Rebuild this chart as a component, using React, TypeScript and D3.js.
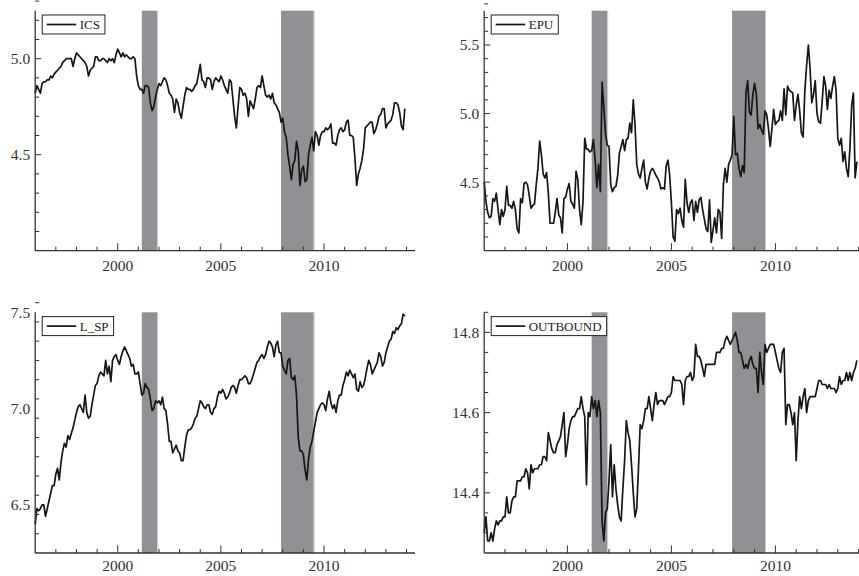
import React, { useEffect, useRef } from 'react';
import * as d3 from 'd3';

// Monthly observations, Jan 1996 .. Dec 2013
const START_YEAR = 1996;

const ICS = [
  4.82, 4.86, 4.84, 4.82, 4.87, 4.88, 4.88, 4.89, 4.89, 4.91, 4.90, 4.92,
  4.93, 4.94, 4.95, 4.96, 4.98, 4.99, 5.00, 5.00, 5.00, 5.00, 4.96, 5.00,
  5.03, 5.02, 5.01, 5.00, 4.99, 4.98, 4.96, 4.91, 4.94, 4.95, 4.96, 5.01,
  5.01, 4.99, 4.99, 5.00, 5.00, 4.99, 4.98, 5.00, 4.99, 5.00, 4.98, 5.02,
  5.05, 5.03, 5.01, 5.03, 5.01, 5.02, 5.01, 5.00, 5.00, 5.01, 5.00, 4.91,
  4.86, 4.84, 4.84, 4.82, 4.86, 4.86, 4.85, 4.77, 4.73, 4.75, 4.80, 4.84,
  4.87, 4.86, 4.88, 4.90, 4.89, 4.86, 4.82, 4.81, 4.79, 4.72, 4.79, 4.77,
  4.72, 4.69, 4.75, 4.81, 4.85, 4.84, 4.84, 4.83, 4.84, 4.86, 4.87, 4.92,
  4.97, 4.89, 4.88, 4.85, 4.90, 4.90, 4.89, 4.84, 4.88, 4.90, 4.89, 4.88,
  4.91, 4.89, 4.86, 4.84, 4.82, 4.89, 4.88, 4.79, 4.70, 4.64, 4.75, 4.85,
  4.84, 4.81, 4.82, 4.79, 4.70, 4.78, 4.76, 4.74, 4.79, 4.85, 4.86, 4.85,
  4.91, 4.86, 4.81, 4.80, 4.81, 4.79, 4.82, 4.77, 4.76, 4.74, 4.72, 4.67,
  4.69, 4.62, 4.59, 4.50, 4.44, 4.37, 4.45, 4.47, 4.57, 4.52, 4.34, 4.42,
  4.44, 4.36, 4.37, 4.50, 4.55, 4.59, 4.52, 4.62, 4.60, 4.55, 4.60, 4.62,
  4.62, 4.64, 4.63, 4.64, 4.66, 4.56, 4.56, 4.55, 4.60, 4.63, 4.64, 4.62,
  4.63, 4.67, 4.68, 4.60, 4.60, 4.59, 4.48, 4.34, 4.40, 4.43, 4.47, 4.53,
  4.64, 4.65, 4.66, 4.67, 4.67, 4.61, 4.63, 4.66, 4.70, 4.71, 4.74, 4.74,
  4.64, 4.66, 4.67, 4.68, 4.71, 4.77, 4.77, 4.76, 4.72, 4.65, 4.63, 4.74,
];

const EPU = [
  4.50, 4.36, 4.28, 4.24, 4.25, 4.38, 4.36, 4.42, 4.30, 4.19, 4.30, 4.25,
  4.30, 4.47, 4.33, 4.33, 4.31, 4.36, 4.30, 4.16, 4.13, 4.38, 4.35, 4.49,
  4.50, 4.48, 4.40, 4.31, 4.33, 4.34, 4.48, 4.60, 4.80, 4.70, 4.56, 4.53,
  4.57, 4.42, 4.20, 4.20, 4.20, 4.28, 4.38, 4.26, 4.24, 4.13, 4.38, 4.39,
  4.45, 4.49, 4.36, 4.34, 4.31, 4.58, 4.52, 4.30, 4.19, 4.36, 4.82, 4.74,
  4.74, 4.72, 4.73, 4.81, 4.66, 4.46, 4.63, 4.43, 5.23, 5.05, 4.85, 4.77,
  4.76, 4.48, 4.43, 4.46, 4.47, 4.55, 4.71, 4.76, 4.81, 4.73, 4.81, 4.82,
  4.93, 4.86, 5.10, 4.92, 4.63, 4.56, 4.53, 4.60, 4.66, 4.50, 4.45, 4.53,
  4.58, 4.60, 4.58, 4.55, 4.53, 4.50, 4.45, 4.46, 4.45, 4.62, 4.66, 4.55,
  4.35, 4.10, 4.07, 4.30, 4.27, 4.31, 4.22, 4.17, 4.52, 4.35, 4.28, 4.35,
  4.37, 4.22, 4.36, 4.28, 4.37, 4.39, 4.30, 4.23, 4.16, 4.14, 4.37, 4.06,
  4.15, 4.24, 4.13, 4.30, 4.28, 4.09, 4.48, 4.60, 4.50, 4.63, 4.66, 4.70,
  4.98, 4.70, 4.71, 4.60, 4.54, 4.62, 4.57, 5.15, 5.24, 5.01, 4.99, 5.14,
  5.22, 5.14, 4.89, 4.92, 4.88, 4.85, 5.02, 4.99, 4.89, 4.76, 4.89, 5.03,
  4.92, 4.94, 4.95, 5.02, 4.95, 5.18, 4.99, 5.20, 5.17, 5.16, 5.15, 4.95,
  5.06, 5.14, 5.02, 4.86, 4.83, 5.17, 5.35, 5.50, 5.33, 5.08, 5.14, 5.24,
  5.00, 4.94, 4.93, 5.09, 5.27, 5.20, 5.03, 5.17, 5.11, 5.20, 5.27, 5.17,
  4.82, 4.77, 4.82, 4.65, 4.72, 4.60, 4.54, 4.75, 5.06, 5.15, 4.53, 4.65,
];

const L_SP = [
  6.40, 6.48, 6.47, 6.48, 6.50, 6.50, 6.44, 6.48, 6.52, 6.56, 6.60, 6.60,
  6.66, 6.69, 6.63, 6.72, 6.78, 6.82, 6.80, 6.86, 6.84, 6.87, 6.90, 6.94,
  6.98, 7.01, 7.02, 7.00, 6.98, 7.07, 6.98, 6.95, 6.96, 7.02, 7.07, 7.12,
  7.13, 7.17, 7.19, 7.18, 7.17, 7.25, 7.18, 7.22, 7.14, 7.25, 7.27, 7.28,
  7.25, 7.23, 7.27, 7.30, 7.32, 7.30, 7.28, 7.26, 7.22, 7.23, 7.18, 7.18,
  7.19, 7.13, 7.07, 7.08, 7.13, 7.11, 7.10, 7.05, 6.99, 7.00, 7.04, 7.03,
  7.04, 7.02, 7.06, 7.00, 6.99, 6.92, 6.83, 6.83, 6.77, 6.79, 6.81, 6.78,
  6.77, 6.73, 6.73, 6.80, 6.86, 6.89, 6.89, 6.90, 6.92, 6.95, 6.96, 7.00,
  7.04, 7.03, 7.01, 7.00, 7.02, 7.02, 6.98, 6.97, 7.00, 7.01, 7.06, 7.09,
  7.08, 7.10, 7.08, 7.05, 7.06, 7.08, 7.11, 7.12, 7.11, 7.08, 7.12, 7.15,
  7.15, 7.16, 7.17, 7.16, 7.13, 7.13, 7.15, 7.18, 7.21, 7.24, 7.25, 7.27,
  7.28, 7.26, 7.28, 7.32, 7.35, 7.34, 7.32, 7.27, 7.33, 7.35, 7.29, 7.29,
  7.22, 7.20, 7.18, 7.25, 7.26, 7.16, 7.15, 7.17, 7.07, 6.85, 6.78, 6.78,
  6.76, 6.68, 6.63, 6.74, 6.80, 6.83, 6.88, 6.93, 6.98, 7.00, 7.02, 7.03,
  7.02, 6.99, 7.05, 7.09, 7.03, 7.00, 7.02, 6.98, 7.04, 7.07, 7.07, 7.12,
  7.15, 7.19, 7.17, 7.20, 7.18, 7.16, 7.18, 7.10, 7.09, 7.14, 7.11, 7.12,
  7.16, 7.21, 7.25, 7.23, 7.18, 7.20, 7.22, 7.24, 7.29, 7.27, 7.22, 7.24,
  7.29, 7.32, 7.35, 7.36, 7.40, 7.39, 7.42, 7.41, 7.43, 7.44, 7.49, 7.48,
];

const OUTBOUND = [
  14.30, 14.34, 14.28, 14.28, 14.30, 14.28, 14.31, 14.33, 14.32, 14.33, 14.33, 14.34,
  14.34, 14.39, 14.35, 14.35, 14.38, 14.39, 14.39, 14.43, 14.43, 14.43, 14.44, 14.44,
  14.46, 14.45, 14.41, 14.47, 14.45, 14.46, 14.46, 14.46, 14.47, 14.47, 14.49, 14.49,
  14.48, 14.55, 14.53, 14.51, 14.50, 14.50, 14.52, 14.53, 14.54, 14.57, 14.60, 14.49,
  14.52, 14.56, 14.58, 14.59, 14.59, 14.60, 14.61, 14.61, 14.64, 14.61, 14.59, 14.42,
  14.60, 14.59, 14.64, 14.61, 14.63, 14.59, 14.63, 14.60, 14.33, 14.28, 14.35, 14.36,
  14.43, 14.52, 14.39, 14.47, 14.41, 14.37, 14.34, 14.33, 14.41, 14.48, 14.58, 14.55,
  14.53, 14.47, 14.40, 14.34, 14.36, 14.46, 14.57, 14.56, 14.58, 14.61, 14.61, 14.64,
  14.61, 14.58, 14.62, 14.65, 14.62, 14.63, 14.63, 14.63, 14.62, 14.63, 14.64, 14.64,
  14.65, 14.69, 14.68, 14.68, 14.68, 14.68, 14.67, 14.62, 14.68, 14.69, 14.69, 14.70,
  14.68, 14.69, 14.77, 14.74, 14.74, 14.73, 14.71, 14.69, 14.72, 14.72, 14.72, 14.72,
  14.72, 14.72, 14.75, 14.75, 14.75, 14.76, 14.76, 14.78, 14.79, 14.78, 14.77, 14.78,
  14.79, 14.80, 14.78, 14.75, 14.75, 14.73, 14.71, 14.72, 14.71, 14.73, 14.74, 14.72,
  14.71, 14.71, 14.65, 14.75, 14.70, 14.67, 14.77, 14.75, 14.76, 14.77, 14.77, 14.77,
  14.75, 14.73, 14.71, 14.70, 14.75, 14.76, 14.57, 14.62, 14.62, 14.60, 14.57, 14.60,
  14.48, 14.58, 14.64, 14.61, 14.64, 14.66, 14.60, 14.63, 14.64, 14.64, 14.64, 14.64,
  14.66, 14.68, 14.68, 14.67, 14.67, 14.67, 14.66, 14.67, 14.66, 14.66, 14.66, 14.65,
  14.66, 14.69, 14.67, 14.68, 14.68, 14.70, 14.68, 14.70, 14.68, 14.70, 14.71, 14.73,
];

// NBER recessions (first month, last month)
const RECESSIONS: [string, string][] = [
  ['2001-03', '2001-11'],
  ['2007-12', '2009-06'],
];

const X_MAJOR_TICKS = [2000, 2005, 2010];

const SERIES_NAMES = ['ICS', 'EPU', 'L_SP', 'OUTBOUND'];
const SERIES_DATA = [ICS, EPU, L_SP, OUTBOUND];
const Y_DOMAINS: [number, number][] = [[4.0, 5.25], [4.0, 5.75], [6.25, 7.5], [14.25, 14.85]];
const Y_LABELS = [[4.5, 5.0], [4.5, 5.0, 5.5], [6.5, 7.0, 7.5], [14.4, 14.6, 14.8]];
const Y_MINOR_STEP = [0.1, 0.1, 0.1, 0.05];

// layout of each panel
const LAYOUT = [
  { x0: 35.2, x1: 415, top: 10.7, bottom: 250.7, ppy: 20.63, labelDy: 20 },
  { x0: 484.2, x1: 868, top: 10.7, bottom: 250.7, ppy: 20.8, labelDy: 20 },
  { x0: 35.2, x1: 415, top: 312.3, bottom: 553, ppy: 20.63, labelDy: 17.5 },
  { x0: 484.2, x1: 868, top: 312.3, bottom: 553, ppy: 20.8, labelDy: 17.5 },
];

const FONT = 'Liberation Serif, Times New Roman, DejaVu Serif, serif';

function monthToDec(s: string) {
  const [y, m] = s.split('-').map(Number);
  return y + (m - 1) / 12;
}

export default function App() {
  const ref = useRef<SVGSVGElement>(null);

  useEffect(() => {
    const svg = d3.select(ref.current);
    svg.selectAll('*').remove();

    SERIES_NAMES.forEach((name, i) => {
      const L = LAYOUT[i];
      const data = SERIES_DATA[i];
      const [d0, d1] = Y_DOMAINS[i];
      const x = d3
        .scaleLinear()
        .domain([START_YEAR, START_YEAR + (L.x1 - L.x0) / L.ppy])
        .range([L.x0, L.x1]);
      const y = d3.scaleLinear().domain([d0, d1]).range([L.bottom, L.top]);
      const g = svg.append('g');

      // recession shading
      RECESSIONS.forEach(([s, e]) => {
        const xs = x(monthToDec(s));
        const xe = x(monthToDec(e) + 1 / 12);
        g.append('rect')
          .attr('x', xs)
          .attr('y', L.top)
          .attr('width', xe - xs)
          .attr('height', L.bottom - L.top)
          .attr('fill', '#909195');
        g.append('line')
          .attr('x1', xe + 0.5)
          .attr('x2', xe + 0.5)
          .attr('y1', L.top)
          .attr('y2', L.bottom)
          .attr('stroke', '#c9c9cb')
          .attr('stroke-width', 1);
      });

      // series line
      const line = d3
        .line<number>()
        .x((_, k) => x(START_YEAR + k / 12))
        .y((d) => y(d));
      g.append('path')
        .datum(data)
        .attr('d', line)
        .attr('fill', 'none')
        .attr('stroke', '#161616')
        .attr('stroke-width', 1.7)
        .attr('stroke-linejoin', 'round');

      const axisColor = '#333';
      g.append('line')
        .attr('x1', L.x0)
        .attr('x2', L.x0)
        .attr('y1', L.top)
        .attr('y2', L.bottom)
        .attr('stroke', axisColor)
        .attr('stroke-width', 1.3);
      g.append('line')
        .attr('x1', L.x0)
        .attr('x2', L.x1)
        .attr('y1', L.bottom)
        .attr('y2', L.bottom)
        .attr('stroke', axisColor)
        .attr('stroke-width', 1.3);

      // y ticks
      const step = Y_MINOR_STEP[i];
      const n = Math.round((d1 - d0) / step);
      const fmt = d3.format('.1f');
      for (let k = 1; k <= n; k++) {
        const v = d0 + k * step;
        const major = Y_LABELS[i].some((l) => Math.abs(l - v) < 1e-6);
        const yy = y(v);
        g.append('line')
          .attr('x1', L.x0)
          .attr('x2', L.x0 + (major ? 6 : 4))
          .attr('y1', yy)
          .attr('y2', yy)
          .attr('stroke', axisColor)
          .attr('stroke-width', 1);
      }
      Y_LABELS[i].forEach((v) => {
        g.append('text')
          .attr('x', L.x0 - 5)
          .attr('y', y(v))
          .attr('text-anchor', 'end')
          .attr('dominant-baseline', 'central')
          .style('font-family', FONT)
          .style('font-size', '15.5px')
          .attr('fill', '#333')
          .text(fmt(v));
      });

      // x ticks
      const xMax = x.domain()[1];
      for (let yr = START_YEAR + 1; yr <= Math.floor(xMax); yr++) {
        const major = X_MAJOR_TICKS.includes(yr);
        const xx = x(yr);
        g.append('line')
          .attr('x1', xx)
          .attr('x2', xx)
          .attr('y1', L.bottom)
          .attr('y2', L.bottom - (major ? 7.5 : 4))
          .attr('stroke', axisColor)
          .attr('stroke-width', 1);
      }
      X_MAJOR_TICKS.forEach((yr) => {
        g.append('text')
          .attr('x', x(yr))
          .attr('y', L.bottom + L.labelDy)
          .attr('text-anchor', 'middle')
          .style('font-family', FONT)
          .style('font-size', '15.5px')
          .attr('fill', '#333')
          .text(String(yr));
      });

      // legend
      const lg = g.append('g').attr('transform', `translate(${L.x0 + 7},${L.top + 4.3})`);
      const box = lg
        .append('rect')
        .attr('x', 0)
        .attr('y', 0)
        .attr('height', 19)
        .attr('fill', '#fff')
        .attr('stroke', '#222')
        .attr('stroke-width', 1);
      lg.append('line')
        .attr('x1', 4.5)
        .attr('x2', 34)
        .attr('y1', 9.5)
        .attr('y2', 9.5)
        .attr('stroke', '#161616')
        .attr('stroke-width', 1.7);
      const t = lg
        .append('text')
        .attr('x', 37.5)
        .attr('y', 14.3)
        .style('font-family', FONT)
        .style('font-size', '13px')
        .attr('fill', '#222')
        .text(name);
      const w = (t.node() as SVGTextElement).getComputedTextLength();
      box.attr('width', 37.5 + w + 5);
    });
  }, []);

  return (
    <svg
      ref={ref}
      width={859}
      height={576}
      style={{ position: 'absolute', left: 0, top: 0, background: '#fff' }}
    />
  );
}
